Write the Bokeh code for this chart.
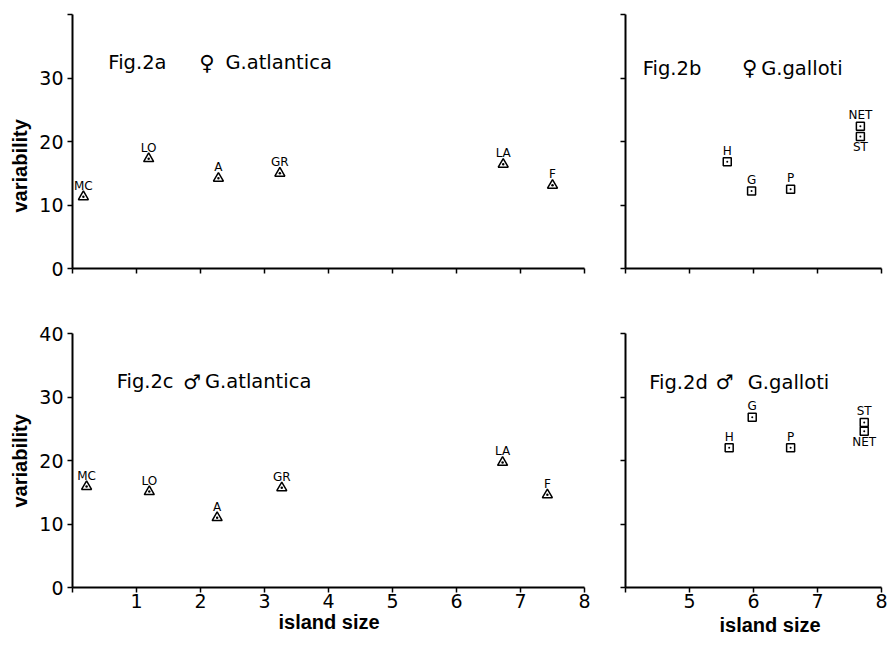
from bokeh.plotting import figure
from bokeh.layouts import column, row
from bokeh.models import ColumnDataSource, Label, FixedTicker, Range1d, Title
from bokeh.core.properties import value
from bokeh.embed import file_html
from bokeh.resources import INLINE

# ---------------- data ----------------
atl_islands = ["MC", "LO", "A", "GR", "LA", "F"]
atl_fem_size = [0.17, 1.19, 2.28, 3.24, 6.73, 7.50]
atl_fem_var = [11.3, 17.3, 14.2, 15.0, 16.4, 13.1]
atl_male_size = [0.22, 1.20, 2.26, 3.27, 6.72, 7.42]
atl_male_var = [15.9, 15.1, 11.0, 15.7, 19.7, 14.6]

gal_fem_islands = ["H", "G", "P", "NET", "ST"]
gal_fem_size = [5.59, 5.97, 6.58, 7.67, 7.67]
gal_fem_var = [16.8, 12.2, 12.5, 22.4, 20.8]

gal_male_islands = ["H", "G", "P", "ST", "NET"]
gal_male_size = [5.62, 5.98, 6.58, 7.73, 7.73]
gal_male_var = [22.0, 26.8, 22.0, 26.0, 24.6]

y_ticks = [0, 10, 20, 30, 40]
atl_x_ticks = [0, 1, 2, 3, 4, 5, 6, 7, 8]
gal_x_ticks = [4, 5, 6, 7, 8]

x_title = "island size"
y_title = "variability"

TICK_FONT = "DejaVu Sans"
LABEL_FONT = "Liberation Sans"
SYMBOL_FONT = "DejaVu Sans"


def make_fig(xr, frame_w, left, right, top, bottom, xticks, show_x_labels, y_label_over):
    p = figure(x_range=Range1d(*xr), y_range=Range1d(0, 40),
               frame_width=frame_w, frame_height=254,
               min_border_left=left, min_border_right=right,
               min_border_top=top, min_border_bottom=bottom,
               output_backend="svg", toolbar_location=None)
    p.outline_line_color = None
    p.xgrid.visible = False
    p.ygrid.visible = False
    for ax in (p.xaxis[0], p.yaxis[0]):
        ax.axis_line_width = 2
        ax.axis_line_color = "black"
        ax.major_tick_line_width = 1.5
        ax.major_tick_line_color = "black"
        ax.major_tick_out = 5
        ax.major_tick_in = 0
        ax.minor_tick_line_color = None
        ax.major_label_text_font = TICK_FONT
        ax.major_label_text_font_size = "19px"
        ax.major_label_text_color = "black"
    p.xaxis.ticker = FixedTicker(ticks=xticks)
    p.yaxis.ticker = FixedTicker(ticks=y_ticks)
    p.xaxis.major_label_standoff = 1
    p.yaxis.major_label_standoff = 4
    if show_x_labels:
        p.xaxis.major_label_overrides = {xticks[0]: ""}
    else:
        p.xaxis.major_label_overrides = {t: "" for t in xticks}
    p.yaxis.major_label_overrides = y_label_over
    return p


def add_points(p, xs, ys, names, marker, size, below=()):
    src = ColumnDataSource(dict(x=xs, y=ys, name=names))
    p.scatter("x", "y", source=src, marker=marker, size=size,
              fill_color=None, line_color="black", line_width=1.5)
    above = [i for i, n in enumerate(names) if n not in below]
    under = [i for i, n in enumerate(names) if n in below]
    if above:
        s1 = ColumnDataSource(dict(x=[xs[i] for i in above], y=[ys[i] for i in above],
                                   name=[names[i] for i in above]))
        p.text("x", "y", text="name", source=s1, y_offset=-11,
               text_align="center", text_baseline="alphabetic",
               text_font=value(TICK_FONT), text_font_size="12px", text_color="black")
    if under:
        s2 = ColumnDataSource(dict(x=[xs[i] for i in under], y=[ys[i] for i in under],
                                   name=[names[i] for i in under]))
        p.text("x", "y", text="name", source=s2, y_offset=4,
               text_align="center", text_baseline="top",
               text_font=value(TICK_FONT), text_font_size="12px", text_color="black")


def add_title(p, parts):
    for (x, y, txt, size) in parts:
        sym = len(txt) == 1
        p.add_layout(Label(x=x, y=y, text=txt,
                           text_font=SYMBOL_FONT if sym else TICK_FONT,
                           text_font_size=size, text_color="black",
                           text_baseline="alphabetic",
                           text_align="center" if sym else "left"))


def add_side_title(p, side, txt, offset, standoff, valign):
    p.add_layout(Title(text=txt, align="left", offset=offset, standoff=standoff,
                       vertical_align=valign, text_font=LABEL_FONT,
                       text_font_style="bold", text_font_size="20px",
                       text_color="black"), side)


all_blank = {t: "" for t in y_ticks}

# Fig 2a
p1 = make_fig((0, 8), 512, 72, 10, 14, 30, atl_x_ticks, False, {40: ""})
add_points(p1, atl_fem_size, atl_fem_var, atl_islands, "triangle_dot", 10)
add_title(p1, [(0.56, 32.4, "Fig.2a", "19.5px"), (2.10, 32.4, "\u2640", "21px"),
               (2.39, 32.4, "G.atlantica", "19.5px")])
add_side_title(p1, "left", y_title, 56, 10, "middle")

# Fig 2b
p2 = make_fig((4, 8), 256, 31, 8, 14, 30, gal_x_ticks, False, all_blank)
add_points(p2, gal_fem_size, gal_fem_var, gal_fem_islands, "square_dot", 8, below=("ST",))
add_title(p2, [(4.27, 31.5, "Fig.2b", "19.5px"), (5.94, 31.5, "\u2640", "21px"),
               (6.12, 31.5, "G.galloti", "19.5px")])

# Fig 2c
p3 = make_fig((0, 8), 512, 72, 10, 35, 59, atl_x_ticks, True, {})
add_points(p3, atl_male_size, atl_male_var, atl_islands, "triangle_dot", 10)
add_title(p3, [(0.69, 32.4, "Fig.2c", "19.5px"), (1.87, 32.4, "\u2642", "20px"),
               (2.07, 32.4, "G.atlantica", "19.5px")])
add_side_title(p3, "left", y_title, 80, 10, "middle")
add_side_title(p3, "below", x_title, 206, 0, "top")

# Fig 2d
p4 = make_fig((4, 8), 256, 31, 8, 35, 59, gal_x_ticks, True, all_blank)
add_points(p4, gal_male_size, gal_male_var, gal_male_islands, "square_dot", 8, below=("NET",))
add_title(p4, [(4.37, 32.3, "Fig.2d", "19.5px"), (5.55, 32.3, "\u2642", "20px"),
               (5.91, 32.3, "G.galloti", "19.5px")])
add_side_title(p4, "below", x_title, 94, 6, "top")

layout = column(row(p1, p2), row(p3, p4))
open("out.html", "w").write(file_html(layout, INLINE))
